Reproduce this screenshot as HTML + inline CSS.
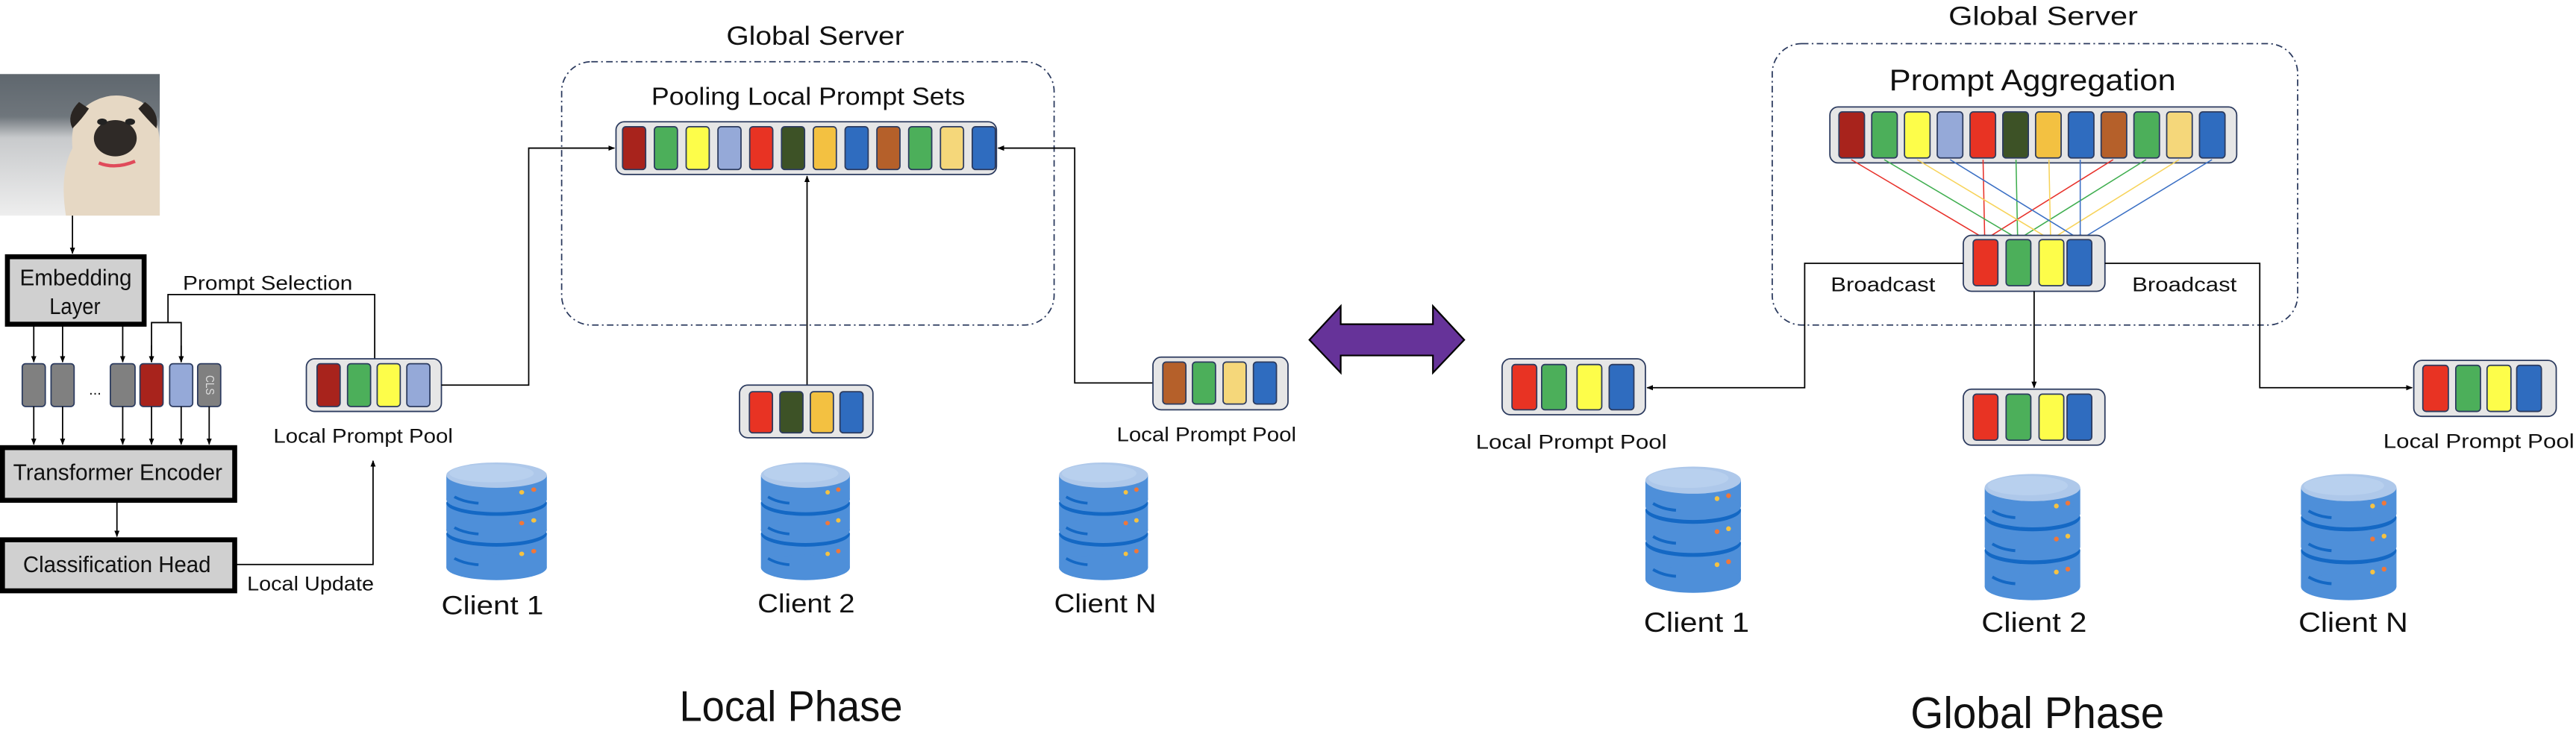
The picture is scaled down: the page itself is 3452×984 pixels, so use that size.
<!DOCTYPE html>
<html><head><meta charset="utf-8"><style>
html,body{margin:0;padding:0;background:#fff;}
svg{display:block;}
text{font-family:"Liberation Sans",sans-serif;fill:#111;dominant-baseline:central;text-anchor:start;}
</style></head><body>
<svg width="3452" height="984" viewBox="0 0 1564 446" preserveAspectRatio="none" xmlns="http://www.w3.org/2000/svg">
<defs>
<marker id="ak" viewBox="0 0 10 10" refX="9" refY="5" markerWidth="5" markerHeight="5" orient="auto"><path d="M0,1 L10,5 L0,9z" fill="#000"/></marker>
<marker id="mr" viewBox="0 0 10 10" refX="9" refY="5" markerWidth="4" markerHeight="4" orient="auto"><path d="M0,1 L10,5 L0,9z" fill="#e8312a"/></marker>
<marker id="mg" viewBox="0 0 10 10" refX="9" refY="5" markerWidth="4" markerHeight="4" orient="auto"><path d="M0,1 L10,5 L0,9z" fill="#3fae4f"/></marker>
<marker id="my" viewBox="0 0 10 10" refX="9" refY="5" markerWidth="4" markerHeight="4" orient="auto"><path d="M0,1 L10,5 L0,9z" fill="#f7d35a"/></marker>
<marker id="mb" viewBox="0 0 10 10" refX="9" refY="5" markerWidth="4" markerHeight="4" orient="auto"><path d="M0,1 L10,5 L0,9z" fill="#3a6fc4"/></marker>
<linearGradient id="bg" x1="0" y1="0" x2="0" y2="1"><stop offset="0" stop-color="#5f676e"/><stop offset="0.3" stop-color="#6f767c"/><stop offset="0.45" stop-color="#c8cacc"/><stop offset="1" stop-color="#eeeeee"/></linearGradient>
<g id="cyl">
<rect x="0" y="78" width="100" height="38" fill="#4e8fd9"/><ellipse cx="50" cy="116" rx="50" ry="14" fill="#4e8fd9"/>
<ellipse cx="50" cy="79" rx="50" ry="14" fill="#1468c4"/>
<rect x="0" y="44" width="100" height="31" fill="#4e8fd9"/><ellipse cx="50" cy="75" rx="50" ry="14" fill="#4e8fd9"/>
<ellipse cx="50" cy="45" rx="50" ry="14" fill="#1468c4"/>
<rect x="0" y="14" width="100" height="27" fill="#4e8fd9"/><ellipse cx="50" cy="41" rx="50" ry="14" fill="#4e8fd9"/>
<ellipse cx="50" cy="14" rx="50" ry="14" fill="#aec8ea"/>
<ellipse cx="45" cy="12" rx="42" ry="10" fill="#b8d0ee"/>
<path d="M8,38 Q18,44 32,45 M8,72 Q18,78 32,79 M8,106 Q18,112 32,113" stroke="#1468c4" stroke-width="3" fill="none"/>
<circle cx="75" cy="33" r="2.5" fill="#f5c242"/><circle cx="87" cy="30" r="2.5" fill="#f0773a"/>
<circle cx="75" cy="67" r="2.5" fill="#f0773a"/><circle cx="87" cy="64" r="2.5" fill="#f5c242"/>
<circle cx="75" cy="101" r="2.5" fill="#f5c242"/><circle cx="87" cy="98" r="2.5" fill="#f0773a"/>
</g>
</defs>

<!-- Dog image -->
<rect x="0" y="45" width="97" height="86" fill="url(#bg)"/>
<path d="M40,131 Q36,105 44,90 Q42,70 56,62 Q70,54 86,62 Q97,70 97,90 L97,131z" fill="#e6d8c4"/>
<path d="M48,62 Q40,70 44,78 Q50,72 54,66z" fill="#2a2522"/>
<path d="M88,62 Q97,68 95,78 Q89,72 84,66z" fill="#2a2522"/>
<ellipse cx="70" cy="84" rx="13" ry="11" fill="#2f2a27"/>
<ellipse cx="62" cy="74" rx="3" ry="2" fill="#222"/>
<ellipse cx="79" cy="74" rx="3" ry="2" fill="#222"/>
<path d="M60,99 Q70,103 82,98" stroke="#e04a5a" stroke-width="2" fill="none"/>

<!-- left model -->
<line x1="44" y1="131" x2="44" y2="154" stroke="#000" stroke-width="0.8" marker-end="url(#ak)"/>
<rect x="4.5" y="156" width="83" height="41" fill="#d0d0d0" stroke="#000" stroke-width="3"/>
<text x="12" y="168.5" font-size="14" textLength="68" lengthAdjust="spacingAndGlyphs">Embedding</text>
<text x="30" y="186" font-size="14" textLength="31" lengthAdjust="spacingAndGlyphs">Layer</text>

<g stroke="#000" stroke-width="0.8" fill="none">
<line x1="20.5" y1="197" x2="20.5" y2="220" marker-end="url(#ak)"/>
<line x1="38" y1="197" x2="38" y2="220" marker-end="url(#ak)"/>
<line x1="74.5" y1="197" x2="74.5" y2="220" marker-end="url(#ak)"/>
<polyline points="227.5,218 227.5,179 102,179 102,196"/>
<polyline points="92,220 92,196 110,196 110,220"/>
</g>
<line x1="92" y1="210" x2="92" y2="220" stroke="#000" stroke-width="0.8" marker-end="url(#ak)"/>
<line x1="110" y1="210" x2="110" y2="220" stroke="#000" stroke-width="0.8" marker-end="url(#ak)"/>
<text x="111" y="172" font-size="12" textLength="103" lengthAdjust="spacingAndGlyphs">Prompt Selection</text>

<g stroke="#2c3b5f" stroke-width="0.8">
<rect x="13.5" y="221" width="14" height="26" rx="2" fill="#808080"/>
<rect x="31" y="221" width="14" height="26" rx="2" fill="#808080"/>
<rect x="67" y="221" width="15" height="26" rx="2" fill="#808080"/>
<rect x="85" y="221" width="14" height="26" rx="2" fill="#a8231c"/>
<rect x="103" y="221" width="14" height="26" rx="2" fill="#95a9d8"/>
<rect x="120" y="221" width="14" height="26" rx="2" fill="#808080"/>
</g>
<text x="54" y="237" font-size="9">...</text>
<text transform="translate(127,234) rotate(90)" x="-6" y="0" font-size="7" style="fill:#ddd" textLength="12" lengthAdjust="spacingAndGlyphs">CLS</text>

<g stroke="#000" stroke-width="0.8">
<line x1="20.5" y1="247" x2="20.5" y2="270" marker-end="url(#ak)"/>
<line x1="38" y1="247" x2="38" y2="270" marker-end="url(#ak)"/>
<line x1="74.5" y1="247" x2="74.5" y2="270" marker-end="url(#ak)"/>
<line x1="92" y1="247" x2="92" y2="270" marker-end="url(#ak)"/>
<line x1="110" y1="247" x2="110" y2="270" marker-end="url(#ak)"/>
<line x1="127" y1="247" x2="127" y2="270" marker-end="url(#ak)"/>
<line x1="71" y1="304" x2="71" y2="326" marker-end="url(#ak)"/>
</g>
<rect x="1.5" y="272" width="141" height="32" fill="#d0d0d0" stroke="#000" stroke-width="3"/>
<text x="8" y="287" font-size="14" textLength="127" lengthAdjust="spacingAndGlyphs">Transformer Encoder</text>
<rect x="1.5" y="328" width="141" height="31" fill="#d0d0d0" stroke="#000" stroke-width="3"/>
<text x="14" y="343" font-size="14" textLength="114" lengthAdjust="spacingAndGlyphs">Classification Head</text>
<polyline points="143,343 226.5,343 226.5,280" fill="none" stroke="#000" stroke-width="0.8" marker-end="url(#ak)"/>
<text x="150" y="354.6" font-size="12" textLength="77" lengthAdjust="spacingAndGlyphs">Local Update</text>

<!-- Local phase -->
<g stroke="#2c3b5f" stroke-width="0.8">
<rect x="186" y="218" width="82" height="32" rx="5" fill="#e6e6e6"/>
<rect x="192.5" y="221" width="14" height="26" rx="2" fill="#a8231c"/>
<rect x="211" y="221" width="14" height="26" rx="2" fill="#4caf5a"/>
<rect x="229" y="221" width="14" height="26" rx="2" fill="#fdfd4a"/>
<rect x="247" y="221" width="14" height="26" rx="2" fill="#95a9d8"/>
</g>
<text x="166" y="265" font-size="12" textLength="109" lengthAdjust="spacingAndGlyphs">Local Prompt Pool</text>
<polyline points="268,234 321,234 321,90 373,90" fill="none" stroke="#000" stroke-width="0.8" marker-end="url(#ak)"/>

<text x="441" y="22" font-size="16" textLength="108" lengthAdjust="spacingAndGlyphs">Global Server</text>
<rect x="341" y="37.5" width="299" height="160" rx="18" fill="none" stroke="#2b3a5e" stroke-width="0.8" stroke-dasharray="4 2 1 2"/>
<text x="395.5" y="59" font-size="15" textLength="190.5" lengthAdjust="spacingAndGlyphs">Pooling Local Prompt Sets</text>
<g stroke="#2c3b5f" stroke-width="0.8">
<rect x="374" y="74" width="231" height="32" rx="5" fill="#e6e6e6"/>
<rect x="378" y="77" width="14" height="26" rx="2" fill="#a8231c"/>
<rect x="397.3" y="77" width="14" height="26" rx="2" fill="#4caf5a"/>
<rect x="416.6" y="77" width="14" height="26" rx="2" fill="#fdfd4a"/>
<rect x="435.9" y="77" width="14" height="26" rx="2" fill="#95a9d8"/>
<rect x="455.2" y="77" width="14" height="26" rx="2" fill="#e83323"/>
<rect x="474.5" y="77" width="14" height="26" rx="2" fill="#3d5226"/>
<rect x="493.8" y="77" width="14" height="26" rx="2" fill="#f3c141"/>
<rect x="513.1" y="77" width="14" height="26" rx="2" fill="#2f6cbf"/>
<rect x="532.4" y="77" width="14" height="26" rx="2" fill="#b5602a"/>
<rect x="551.7" y="77" width="14" height="26" rx="2" fill="#4caf5a"/>
<rect x="571" y="77" width="14" height="26" rx="2" fill="#f5d77a"/>
<rect x="590.3" y="77" width="14" height="26" rx="2" fill="#2f6cbf"/>
</g>
<line x1="490" y1="234" x2="490" y2="107" stroke="#000" stroke-width="0.8" marker-end="url(#ak)"/>
<polyline points="700,232.7 652.5,232.7 652.5,90 606,90" fill="none" stroke="#000" stroke-width="0.8" marker-end="url(#ak)"/>

<g stroke="#2c3b5f" stroke-width="0.8">
<rect x="449" y="234" width="81" height="32" rx="5" fill="#e6e6e6"/>
<rect x="455" y="238" width="14" height="25" rx="2" fill="#e83323"/>
<rect x="473.5" y="238" width="14" height="25" rx="2" fill="#3d5226"/>
<rect x="492" y="238" width="14" height="25" rx="2" fill="#f3c141"/>
<rect x="510" y="238" width="14" height="25" rx="2" fill="#2f6cbf"/>
<rect x="700" y="217" width="82" height="32" rx="5" fill="#e6e6e6"/>
<rect x="706" y="220" width="14" height="25.5" rx="2" fill="#b5602a"/>
<rect x="724" y="220" width="14" height="25.5" rx="2" fill="#4caf5a"/>
<rect x="742.6" y="220" width="14" height="25.5" rx="2" fill="#f5d77a"/>
<rect x="761" y="220" width="14" height="25.5" rx="2" fill="#2f6cbf"/>
</g>
<text x="678" y="264" font-size="12" textLength="109" lengthAdjust="spacingAndGlyphs">Local Prompt Pool</text>

<use href="#cyl" transform="translate(271,281) scale(0.61,0.55)"/>
<use href="#cyl" transform="translate(462,281) scale(0.54,0.55)"/>
<use href="#cyl" transform="translate(643,281) scale(0.54,0.55)"/>
<text x="268" y="368" font-size="16" textLength="62" lengthAdjust="spacingAndGlyphs">Client 1</text>
<text x="460" y="367" font-size="16" textLength="59" lengthAdjust="spacingAndGlyphs">Client 2</text>
<text x="640" y="367" font-size="16" textLength="62" lengthAdjust="spacingAndGlyphs">Client N</text>
<text x="412.5" y="429.5" font-size="26" textLength="135.5" lengthAdjust="spacingAndGlyphs">Local Phase</text>

<!-- purple arrow -->
<polygon points="795,206.5 814,186 814,197 870,197 870,186 889,206.5 870,226.5 870,216 814,216 814,226.5" fill="#663399" stroke="#000" stroke-width="1"/>

<!-- Global phase -->
<text x="1183" y="10" font-size="16" textLength="115" lengthAdjust="spacingAndGlyphs">Global Server</text>
<rect x="1076" y="26.5" width="319" height="171" rx="18" fill="none" stroke="#2b3a5e" stroke-width="0.8" stroke-dasharray="4 2 1 2"/>
<text x="1147" y="49" font-size="18" textLength="174" lengthAdjust="spacingAndGlyphs">Prompt Aggregation</text>
<g stroke="#2c3b5f" stroke-width="0.8">
<rect x="1111" y="65" width="247" height="34" rx="5" fill="#e6e6e6"/>
<rect x="1116.5" y="68" width="15.5" height="28" rx="2" fill="#a8231c"/>
<rect x="1136.4" y="68" width="15.5" height="28" rx="2" fill="#4caf5a"/>
<rect x="1156.3" y="68" width="15.5" height="28" rx="2" fill="#fdfd4a"/>
<rect x="1176.2" y="68" width="15.5" height="28" rx="2" fill="#95a9d8"/>
<rect x="1196.1" y="68" width="15.5" height="28" rx="2" fill="#e83323"/>
<rect x="1216" y="68" width="15.5" height="28" rx="2" fill="#3d5226"/>
<rect x="1235.9" y="68" width="15.5" height="28" rx="2" fill="#f3c141"/>
<rect x="1255.8" y="68" width="15.5" height="28" rx="2" fill="#2f6cbf"/>
<rect x="1275.7" y="68" width="15.5" height="28" rx="2" fill="#b5602a"/>
<rect x="1295.6" y="68" width="15.5" height="28" rx="2" fill="#4caf5a"/>
<rect x="1315.5" y="68" width="15.5" height="28" rx="2" fill="#f5d77a"/>
<rect x="1335.4" y="68" width="15.5" height="28" rx="2" fill="#2f6cbf"/>
</g>
<g stroke-width="0.7">
<line x1="1124" y1="97" x2="1205" y2="145" stroke="#e8312a" marker-end="url(#mr)"/>
<line x1="1204" y1="97" x2="1205" y2="145" stroke="#e8312a" marker-end="url(#mr)"/>
<line x1="1283" y1="97" x2="1206" y2="145" stroke="#e8312a" marker-end="url(#mr)"/>
<line x1="1144" y1="97" x2="1225" y2="145" stroke="#3fae4f" marker-end="url(#mg)"/>
<line x1="1224" y1="97" x2="1225" y2="145" stroke="#3fae4f" marker-end="url(#mg)"/>
<line x1="1303" y1="97" x2="1226" y2="145" stroke="#3fae4f" marker-end="url(#mg)"/>
<line x1="1164" y1="97" x2="1244" y2="145" stroke="#f7d35a" marker-end="url(#my)"/>
<line x1="1244" y1="97" x2="1245" y2="145" stroke="#f7d35a" marker-end="url(#my)"/>
<line x1="1323" y1="97" x2="1246" y2="145" stroke="#f7d35a" marker-end="url(#my)"/>
<line x1="1184" y1="97" x2="1262" y2="145" stroke="#3a6fc4" marker-end="url(#mb)"/>
<line x1="1263" y1="97" x2="1263" y2="145" stroke="#3a6fc4" marker-end="url(#mb)"/>
<line x1="1343" y1="97" x2="1264" y2="145" stroke="#3a6fc4" marker-end="url(#mb)"/>
</g>
<g stroke="#2c3b5f" stroke-width="0.8">
<rect x="1192" y="143" width="86" height="34" rx="5" fill="#e6e6e6"/>
<rect x="1198" y="145.6" width="15" height="28" rx="2" fill="#e83323"/>
<rect x="1218" y="145.6" width="15" height="28" rx="2" fill="#4caf5a"/>
<rect x="1238" y="145.6" width="15" height="28" rx="2" fill="#fdfd4a"/>
<rect x="1255" y="145.6" width="15" height="28" rx="2" fill="#2f6cbf"/>
</g>
<polyline points="1192,160 1095.7,160 1095.7,235.6 1000,235.6" fill="none" stroke="#000" stroke-width="0.8" marker-end="url(#ak)"/>
<polyline points="1278,160 1372,160 1372,235.6 1464.5,235.6" fill="none" stroke="#000" stroke-width="0.8" marker-end="url(#ak)"/>
<line x1="1235" y1="177" x2="1235" y2="235.5" stroke="#000" stroke-width="0.8" marker-end="url(#ak)"/>
<text x="1111.5" y="173" font-size="12" textLength="63.5" lengthAdjust="spacingAndGlyphs">Broadcast</text>
<text x="1294.5" y="173" font-size="12" textLength="63.5" lengthAdjust="spacingAndGlyphs">Broadcast</text>

<g stroke="#2c3b5f" stroke-width="0.8">
<rect x="912" y="218" width="87" height="34" rx="5" fill="#e6e6e6"/>
<rect x="918" y="221.5" width="15" height="27.5" rx="2" fill="#e83323"/>
<rect x="936" y="221.5" width="15" height="27.5" rx="2" fill="#4caf5a"/>
<rect x="957.5" y="221.5" width="15" height="27.5" rx="2" fill="#fdfd4a"/>
<rect x="977" y="221.5" width="15" height="27.5" rx="2" fill="#2f6cbf"/>
<rect x="1192" y="236.5" width="86" height="34" rx="5" fill="#e6e6e6"/>
<rect x="1198" y="239.5" width="15" height="28" rx="2" fill="#e83323"/>
<rect x="1218" y="239.5" width="15" height="28" rx="2" fill="#4caf5a"/>
<rect x="1238" y="239.5" width="15" height="28" rx="2" fill="#fdfd4a"/>
<rect x="1255" y="239.5" width="15" height="28" rx="2" fill="#2f6cbf"/>
<rect x="1465.5" y="219" width="86.5" height="34" rx="5" fill="#e6e6e6"/>
<rect x="1471" y="222" width="15.5" height="28" rx="2" fill="#e83323"/>
<rect x="1491" y="222" width="15" height="28" rx="2" fill="#4caf5a"/>
<rect x="1510" y="222" width="14.5" height="28" rx="2" fill="#fdfd4a"/>
<rect x="1528" y="222" width="15" height="28" rx="2" fill="#2f6cbf"/>
</g>
<text x="896" y="268.6" font-size="12" textLength="116" lengthAdjust="spacingAndGlyphs">Local Prompt Pool</text>
<text x="1447" y="268" font-size="12" textLength="116" lengthAdjust="spacingAndGlyphs">Local Prompt Pool</text>

<use href="#cyl" transform="translate(999,283.5) scale(0.58,0.59)"/>
<use href="#cyl" transform="translate(1205,288) scale(0.58,0.59)"/>
<use href="#cyl" transform="translate(1397,288) scale(0.58,0.59)"/>
<text x="998" y="378" font-size="17" textLength="64" lengthAdjust="spacingAndGlyphs">Client 1</text>
<text x="1203" y="378" font-size="17" textLength="64" lengthAdjust="spacingAndGlyphs">Client 2</text>
<text x="1395.5" y="378" font-size="17" textLength="66.5" lengthAdjust="spacingAndGlyphs">Client N</text>
<text x="1160" y="433" font-size="27" textLength="154" lengthAdjust="spacingAndGlyphs">Global Phase</text>
</svg>
</body></html>
